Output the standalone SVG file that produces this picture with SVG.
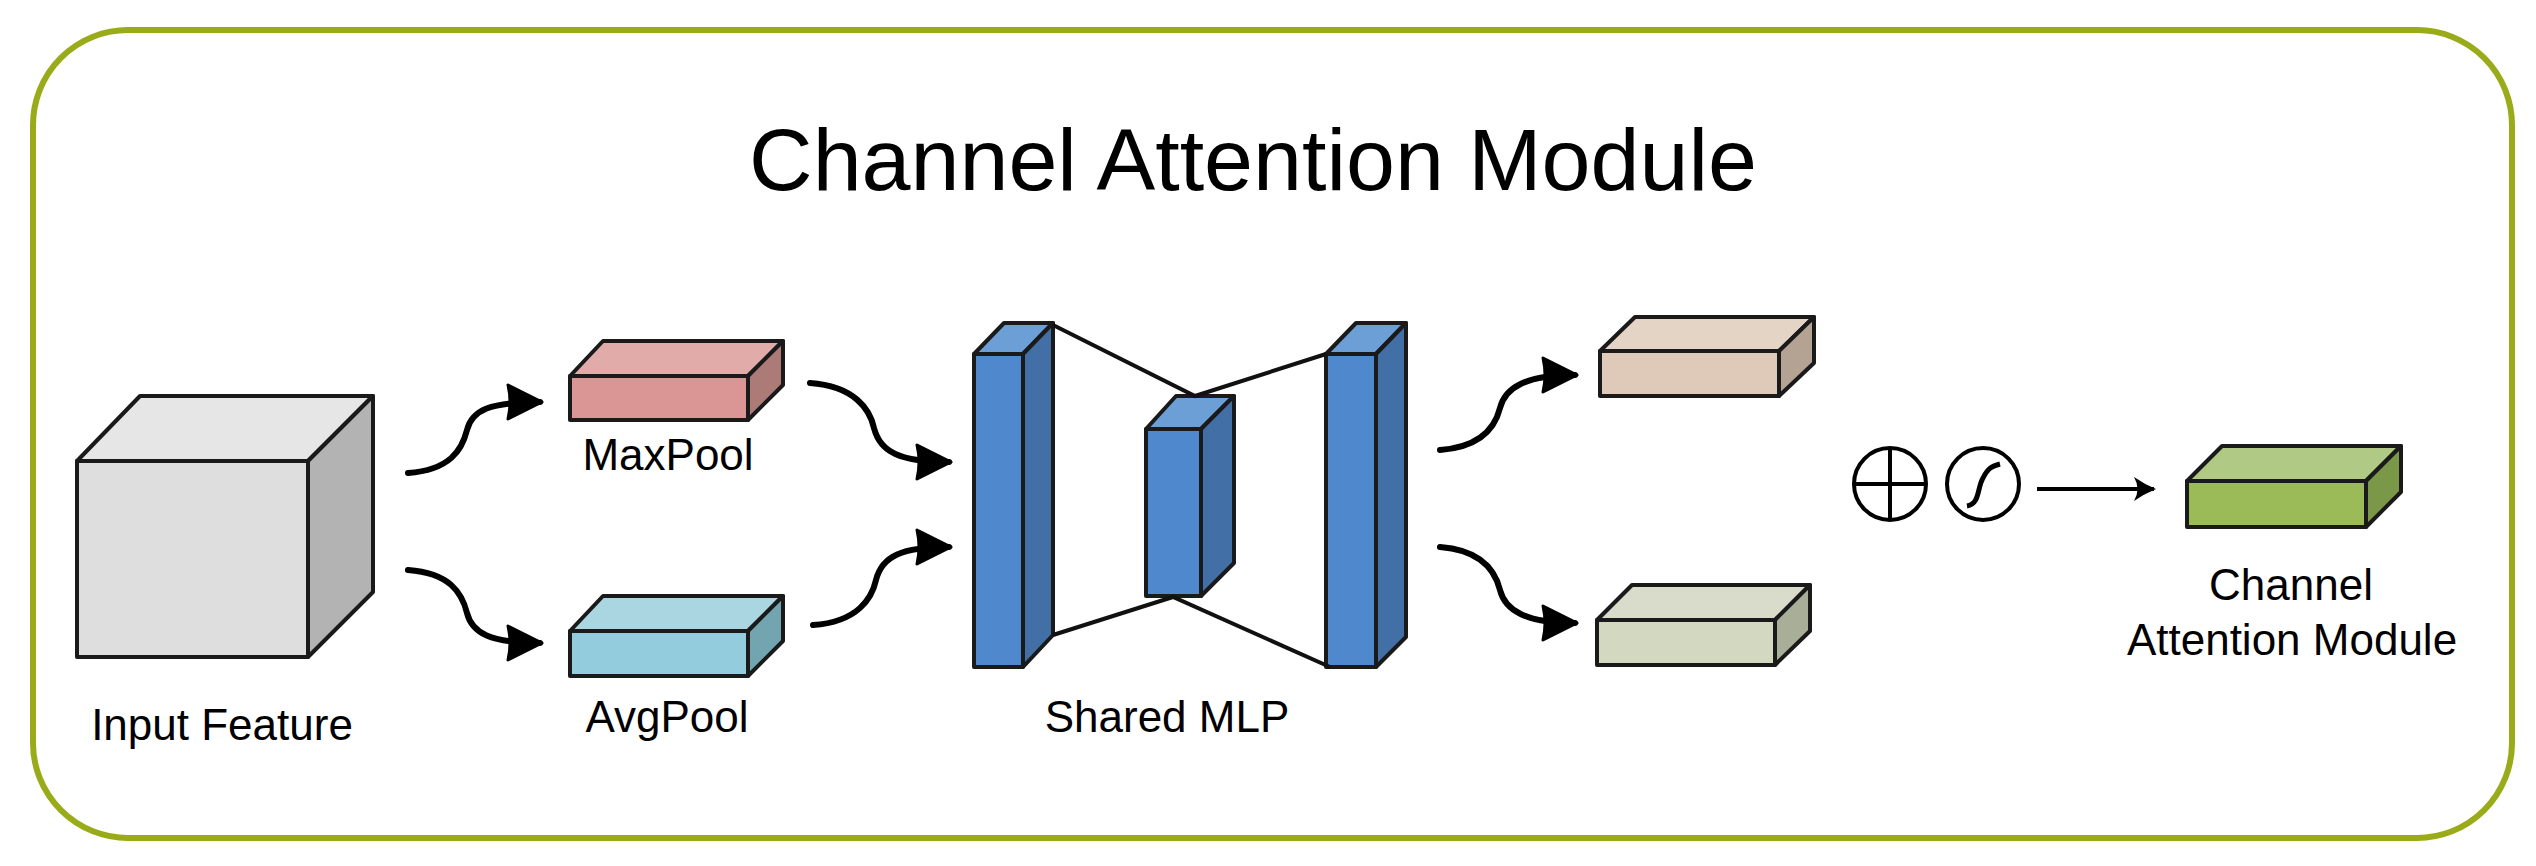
<svg xmlns="http://www.w3.org/2000/svg" width="2536" height="866" viewBox="0 0 2536 866">
<style>
.t{font-family:"Liberation Sans",Arial,sans-serif;fill:#000;text-anchor:middle}
.lbl{font-size:44px}
.e{stroke:#1a1a1a;stroke-width:4;stroke-linejoin:round}
.c{fill:none;stroke:#000;stroke-width:6;stroke-linecap:round}
.ln{fill:none;stroke:#111;stroke-width:4}
</style>
<defs>
<marker id="ah" markerUnits="userSpaceOnUse" markerWidth="40" markerHeight="40" refX="34" refY="19" orient="auto">
<path d="M2,2 Q6,19 2,36 L36,19 Z" fill="#000" stroke="#000" stroke-width="3" stroke-linejoin="round"/>
</marker>
<marker id="oh" markerUnits="userSpaceOnUse" markerWidth="30" markerHeight="30" refX="22" refY="15" orient="auto">
<path d="M2,3 Q12,10 24,15 Q12,20 2,27 Q9,15 2,3 Z" fill="#000"/>
</marker>
</defs>
<rect x="33" y="30" width="2479" height="808" rx="95" fill="#fff" stroke="#9aab1a" stroke-width="6"/>
<text class="t" x="1253" y="190" font-size="88">Channel Attention Module</text>

<g id="input">
<polygon class="e" points="77,461 140,396 373,396 308,461" fill="#e6e6e6"/>
<polygon class="e" points="308,461 373,396 373,592 308,657" fill="#b3b3b3"/>
<rect class="e" x="77" y="461" width="231" height="196" fill="#dedede"/>
<text class="t lbl" x="222" y="740">Input Feature</text>
</g>
<g id="maxpool">
<polygon class="e" points="570,376 603,341 783,341 748,376" fill="#e0aba8"/>
<polygon class="e" points="748,376 783,341 783,385 748,420" fill="#ad7b77"/>
<rect class="e" x="570" y="376" width="178" height="44" fill="#d99694"/>
<text class="t lbl" x="668" y="470">MaxPool</text>
</g>
<g id="avgpool">
<polygon class="e" points="570,631 603,596 783,596 748,631" fill="#a9d6e1"/>
<polygon class="e" points="748,631 783,596 783,641 748,676" fill="#73a5b0"/>
<rect class="e" x="570" y="631" width="178" height="45" fill="#93cddd"/>
<text class="t lbl" x="667" y="732">AvgPool</text>
</g>
<g id="mlp">
<polygon class="e" points="974,354 1004,323 1053,323 1023,354" fill="#6c9fd6"/>
<polygon class="e" points="1023,354 1053,323 1053,635 1023,667" fill="#416fa6"/>
<rect class="e" x="974" y="354" width="49" height="313" fill="#4f88cc"/>
<polygon class="e" points="1146,429 1176,396 1234,396 1201,429" fill="#6c9fd6"/>
<polygon class="e" points="1201,429 1234,396 1234,563 1201,596" fill="#416fa6"/>
<rect class="e" x="1146" y="429" width="55" height="167" fill="#4f88cc"/>
<polygon class="e" points="1326,354 1356,323 1406,323 1376,354" fill="#6c9fd6"/>
<polygon class="e" points="1376,354 1406,323 1406,637 1376,667" fill="#416fa6"/>
<rect class="e" x="1326" y="354" width="50" height="313" fill="#4f88cc"/>
<path class="ln" d="M1053,325 L1195,396 L1326,354 M1053,635 L1173,597 L1330,667"/>
<text class="t lbl" x="1167" y="732">Shared MLP</text>
</g>
<g id="maxout">
<polygon class="e" points="1600,351 1635,317 1814,317 1779,351" fill="#e4d4c6"/>
<polygon class="e" points="1779,351 1814,317 1814,363 1779,396" fill="#b4a293"/>
<rect class="e" x="1600" y="351" width="179" height="45" fill="#dfc9b8"/>
</g>
<g id="avgout">
<polygon class="e" points="1597,620 1632,585 1810,585 1775,620" fill="#dadccb"/>
<polygon class="e" points="1775,620 1810,585 1810,631 1775,665" fill="#a9ae99"/>
<rect class="e" x="1597" y="620" width="178" height="45" fill="#d3d8c1"/>
</g>
<g id="ops">
<circle cx="1890" cy="484" r="36" fill="none" stroke="#000" stroke-width="4"/>
<path d="M1854,484 H1926 M1890,448 V520" stroke="#000" stroke-width="4"/>
<circle cx="1983" cy="484" r="36" fill="none" stroke="#000" stroke-width="4"/>
<path d="M1967,506 C1980,504 1977,488 1983,478 C1988,468 1992,466 2000,464" fill="none" stroke="#000" stroke-width="5"/>
</g>
<g id="output">
<polygon class="e" points="2187,481 2222,446 2401,446 2366,481" fill="#b0c985"/>
<polygon class="e" points="2366,481 2401,446 2401,492 2366,527" fill="#7a9848"/>
<rect class="e" x="2187" y="481" width="179" height="46" fill="#9bbb59"/>
<text class="t lbl" x="2291" y="600">Channel</text>
<text class="t lbl" x="2292" y="655">Attention Module</text>
</g>
<g id="connectors">
<path class="c" marker-end="url(#ah)" d="M408,473 C450,470 462,450 467,430 C472,410 490,402 540,402"/>
<path class="c" marker-end="url(#ah)" d="M408,570 C450,573 462,593 467,613 C472,633 490,643 540,643"/>
<path class="c" marker-end="url(#ah)" d="M810,383 C855,386 870,410 874,428 C880,452 900,462 949,462"/>
<path class="c" marker-end="url(#ah)" d="M813,625 C858,622 872,598 876,580 C882,556 902,547 949,547"/>
<path class="c" marker-end="url(#ah)" d="M1440,450 C1480,447 1495,428 1500,408 C1505,388 1525,375 1575,375"/>
<path class="c" marker-end="url(#ah)" d="M1440,547 C1480,550 1495,570 1500,590 C1505,610 1525,623 1575,623"/>
<path d="M2037,489 H2154" stroke="#000" stroke-width="4" marker-end="url(#oh)"/>
</g>
</svg>
